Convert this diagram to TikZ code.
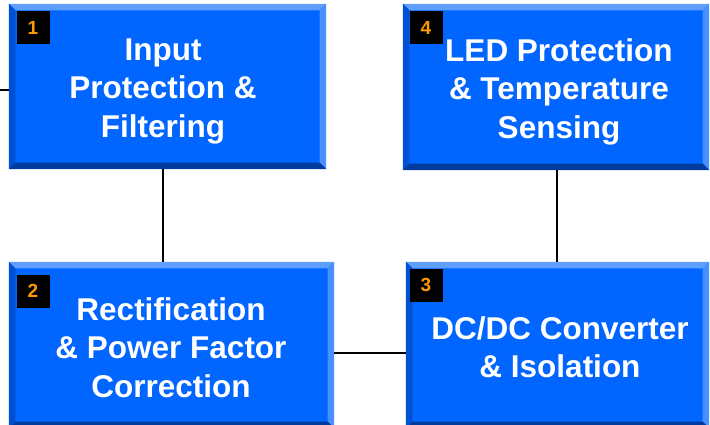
\documentclass[tikz,border=0pt]{standalone}
\usepackage{fontspec}
\setmainfont{Liberation Sans}
\usetikzlibrary{calc,fit}
\definecolor{face}{HTML}{0066FF}
\definecolor{bvtop}{HTML}{5E9EFF}
\definecolor{bvright}{HTML}{4A8FFF}
\definecolor{bvleft}{HTML}{0050D4}
\definecolor{bvbot}{HTML}{003C9E}
\definecolor{numc}{HTML}{FF9900}
\tikzset{
  boxface/.style={fill=face, draw=none, inner sep=0pt},
  boxtext/.style={text=white, font=\fontsize{31.5}{38.5}\selectfont\bfseries, align=center, inner sep=0pt},
  numbox/.style={fill=black, text=numc, minimum size=33pt, inner sep=0pt, font=\fontsize{19}{19}\selectfont\bfseries},
  conn/.style={line width=1.5pt, black},
}
\newcommand\bevelbox[5]{%
  \coordinate (#1nw) at (#2,#3);
  \coordinate (#1se) at (#4,#5);
  \node[boxface, fit=(#1nw)(#1se)] (#1) {};
  \fill[bvtop] (#1.north west) -- (#1.north east) -- ($(#1.north east)+(-6.5,6.5)$) -- ($(#1.north west)+(6.5,6.5)$) -- cycle;
  \fill[bvleft] (#1.north west) -- ($(#1.north west)+(6.5,6.5)$) -- ($(#1.south west)+(6.5,-6.5)$) -- (#1.south west) -- cycle;
  \fill[bvright] (#1.north east) -- ($(#1.north east)+(-6.5,6.5)$) -- ($(#1.south east)+(-6.5,-6.5)$) -- (#1.south east) -- cycle;
  \fill[bvbot] (#1.south west) -- ($(#1.south west)+(6.5,-6.5)$) -- ($(#1.south east)+(-6.5,-6.5)$) -- (#1.south east) -- cycle;
}
\begin{document}
\begin{tikzpicture}[x=1pt,y=-1pt]
\useasboundingbox (0,0) rectangle (710,425);
\bevelbox{b1}{9}{4}{326}{169}
\bevelbox{b4}{403}{4}{709}{170}
\bevelbox{b2}{9}{262}{334}{428}
\bevelbox{b3}{406}{262}{709}{428}
\node[boxtext] (t1) at (163,91.5) {Input\\Protection \&\\Filtering};
\node[boxtext] (t4) at (559,91.5) {LED Protection\\\& Temperature\\Sensing};
\node[boxtext] (t2) at (171,347.5) {Rectification\\\& Power Factor\\Correction};
\node[boxtext] (t3) at (560,347) {DC/DC Converter\\\& Isolation};
\node[numbox] (n1) at (33,27.5) {1};
\node[numbox] (n4) at (426,27.5) {4};
\node[numbox] (n2) at (33,291) {2};
\node[numbox] (n3) at (426,285) {3};
\coordinate (in) at (0,90);
\coordinate (c12) at (163,0);
\coordinate (c43) at (557,0);
\coordinate (h23) at (0,353);
\draw[conn] (in) -- (in -| b1.west);
\draw[conn] (b1.south -| c12) -- (b2.north -| c12);
\draw[conn] (b4.south -| c43) -- (b3.north -| c43);
\draw[conn] (b2.east |- h23) -- (b3.west |- h23);
\end{tikzpicture}
\end{document}
